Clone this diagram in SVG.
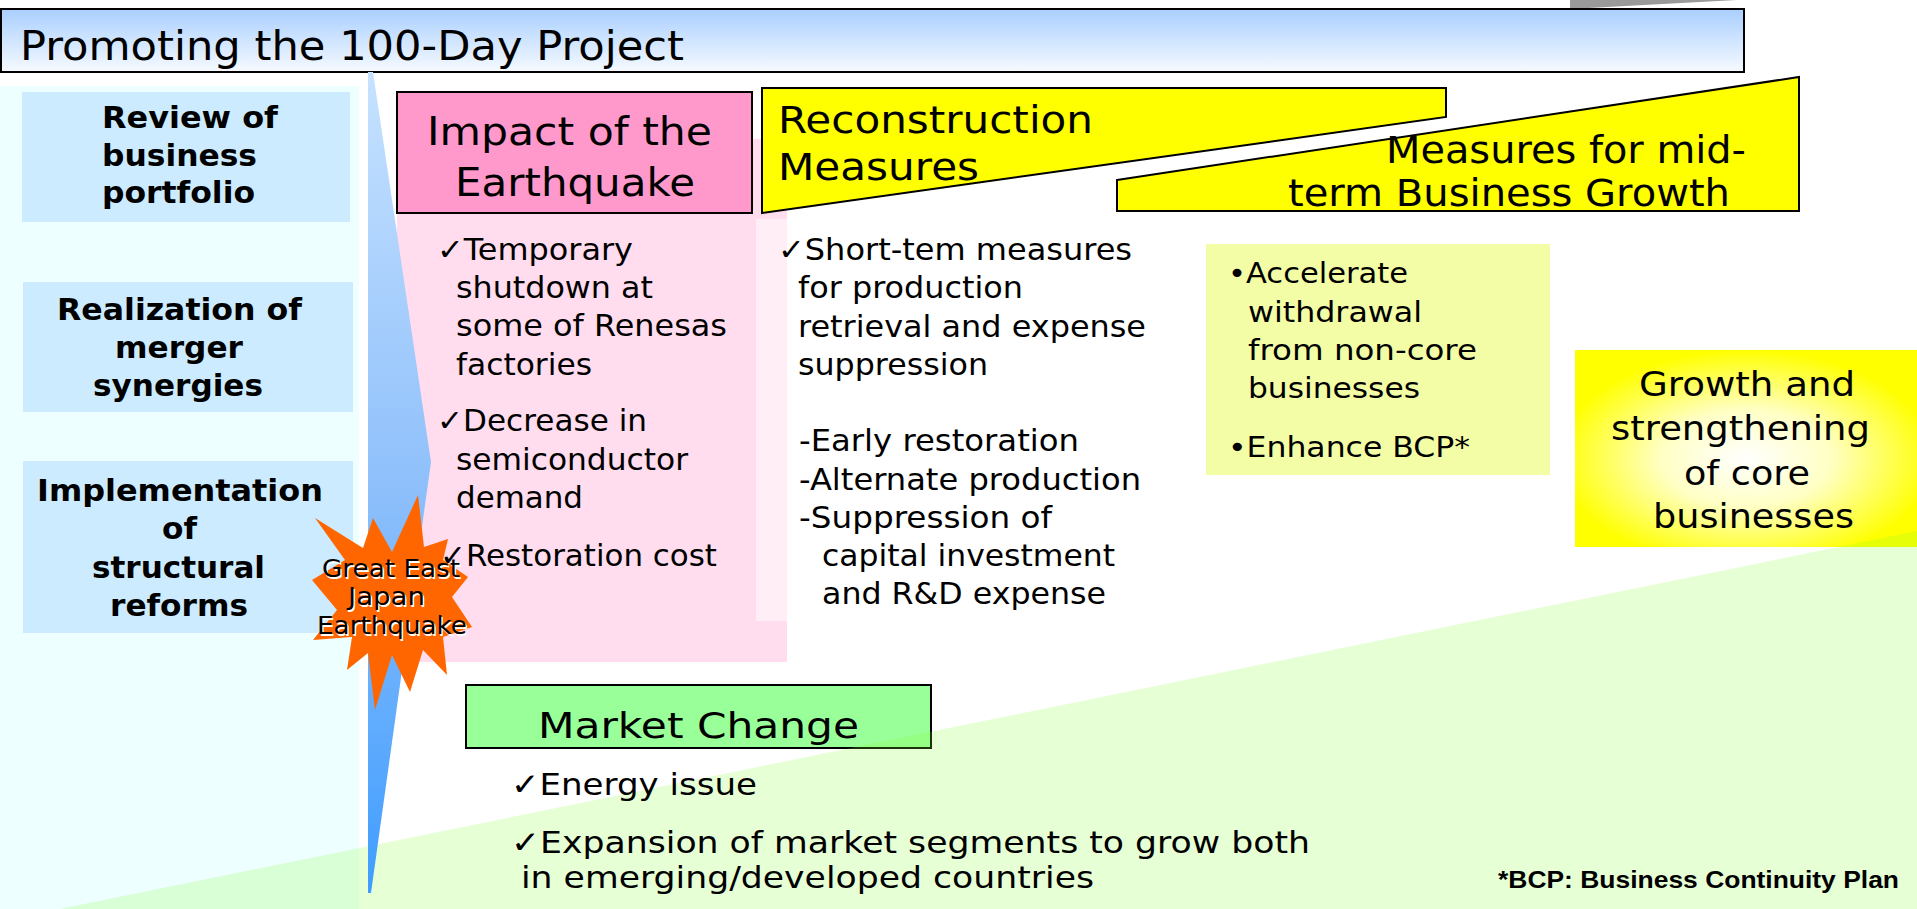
<svg xmlns="http://www.w3.org/2000/svg" width="1917" height="909" viewBox="0 0 1917 909">
<defs>
<style>
text{font-family:"DejaVu Sans",Verdana,sans-serif;fill:#000}
.bold{font-weight:bold}
.f30{font-size:30px}
.f29{font-size:29px}
.f31{font-size:31px}
.f33{font-size:33px}
.f37{font-size:37px}
.f39{font-size:39px}
.lbox{fill:#CCEBFF}
.ybox{fill:#FFFF00;stroke:#000;stroke-width:2}
.shadow{fill:#fff}
</style>
<linearGradient id="titleGrad" x1="0" y1="0" x2="0" y2="1">
<stop offset="0" stop-color="#A9CFFF"/>
<stop offset="1" stop-color="#F6FAFF"/>
</linearGradient>
<linearGradient id="arrowGrad" x1="0" y1="0" x2="0" y2="1">
<stop offset="0" stop-color="#C6E2FF"/>
<stop offset="0.5" stop-color="#8FC0FB"/>
<stop offset="1" stop-color="#3F9DFF"/>
</linearGradient>
<radialGradient id="growGrad" cx="0.5" cy="0.55" r="0.55">
<stop offset="0" stop-color="#FFFFFF"/>
<stop offset="0.45" stop-color="#FFFFC4"/>
<stop offset="1" stop-color="#FFFF00"/>
</radialGradient>
</defs>

<rect width="1917" height="909" fill="#fff"/>

<!-- top-right grey wedge -->
<polygon points="1570,0 1737,0 1570,9" fill="#9A9A9A"/>

<!-- title bar -->
<g id="title">
<rect x="1" y="9" width="1743" height="63" fill="url(#titleGrad)" stroke="#000" stroke-width="2"/>
<text x="20" y="60" style="font-size:40px" textLength="664" lengthAdjust="spacingAndGlyphs">Promoting the 100-Day Project</text>
</g>

<!-- left column -->
<rect x="0" y="86" width="359" height="823" fill="#EEFFFF"/>

<g id="review">
<rect class="lbox" x="22" y="92" width="328" height="130"/>
<text class="bold f30" x="102" y="128" textLength="176" lengthAdjust="spacingAndGlyphs">Review of</text>
<text class="bold f30" x="102" y="166" textLength="155" lengthAdjust="spacingAndGlyphs">business</text>
<text class="bold f30" x="102" y="203" textLength="153" lengthAdjust="spacingAndGlyphs">portfolio</text>
</g>

<g id="synergies">
<rect class="lbox" x="23" y="282" width="330" height="130"/>
<text class="bold f30" x="57" y="320" textLength="245" lengthAdjust="spacingAndGlyphs">Realization of</text>
<text class="bold f30" x="115" y="358" textLength="128" lengthAdjust="spacingAndGlyphs">merger</text>
<text class="bold f30" x="93" y="396" textLength="170" lengthAdjust="spacingAndGlyphs">synergies</text>
</g>

<g id="reforms">
<rect class="lbox" x="23" y="461" width="330" height="172"/>
<text class="bold f30" x="37" y="501" textLength="286" lengthAdjust="spacingAndGlyphs">Implementation</text>
<text class="bold f30" x="162" y="539" textLength="35" lengthAdjust="spacingAndGlyphs">of</text>
<text class="bold f30" x="92" y="578" textLength="173" lengthAdjust="spacingAndGlyphs">structural</text>
<text class="bold f30" x="110" y="616" textLength="138" lengthAdjust="spacingAndGlyphs">reforms</text>
</g>

<!-- impact of the earthquake -->
<g id="impact">
<rect x="397" y="139" width="390" height="523" fill="#FFDDEE"/>
<rect x="756" y="219" width="31" height="402" fill="#FFEEF5"/>
<rect x="397" y="92" width="355" height="121" fill="#FF99CC" stroke="#000" stroke-width="2"/>
<text class="f39" x="427" y="145" textLength="285" lengthAdjust="spacingAndGlyphs">Impact of the</text>
<text class="f39" x="455" y="196" textLength="240" lengthAdjust="spacingAndGlyphs">Earthquake</text>
<text class="f30" x="437" y="260" textLength="196" lengthAdjust="spacingAndGlyphs">✓Temporary</text>
<text class="f30" x="456" y="298" textLength="197" lengthAdjust="spacingAndGlyphs">shutdown at</text>
<text class="f30" x="456" y="336" textLength="271" lengthAdjust="spacingAndGlyphs">some of Renesas</text>
<text class="f30" x="456" y="375" textLength="136" lengthAdjust="spacingAndGlyphs">factories</text>
<text class="f30" x="437" y="431" textLength="210" lengthAdjust="spacingAndGlyphs">✓Decrease in</text>
<text class="f30" x="456" y="470" textLength="232" lengthAdjust="spacingAndGlyphs">semiconductor</text>
<text class="f30" x="456" y="508" textLength="127" lengthAdjust="spacingAndGlyphs">demand</text>
<text class="f30" x="440" y="566" textLength="277" lengthAdjust="spacingAndGlyphs">✓Restoration cost</text>
</g>

<!-- reconstruction measures -->
<g id="reconstruction">
<polygon class="ybox" points="762,88 1446,88 1446,117 762,213"/>
<text class="f37" x="778" y="133" textLength="315" lengthAdjust="spacingAndGlyphs">Reconstruction</text>
<text class="f37" x="778" y="180" textLength="201" lengthAdjust="spacingAndGlyphs">Measures</text>
<text class="f30" x="778" y="260" textLength="354" lengthAdjust="spacingAndGlyphs">✓Short-tem measures</text>
<text class="f30" x="798" y="298" textLength="225" lengthAdjust="spacingAndGlyphs">for production</text>
<text class="f30" x="798" y="337" textLength="348" lengthAdjust="spacingAndGlyphs">retrieval and expense</text>
<text class="f30" x="798" y="375" textLength="190" lengthAdjust="spacingAndGlyphs">suppression</text>
<text class="f30" x="799" y="451" textLength="280" lengthAdjust="spacingAndGlyphs">-Early restoration</text>
<text class="f30" x="799" y="490" textLength="342" lengthAdjust="spacingAndGlyphs">-Alternate production</text>
<text class="f30" x="799" y="528" textLength="253" lengthAdjust="spacingAndGlyphs">-Suppression of</text>
<text class="f30" x="822" y="566" textLength="293" lengthAdjust="spacingAndGlyphs">capital investment</text>
<text class="f30" x="822" y="604" textLength="284" lengthAdjust="spacingAndGlyphs">and R&amp;D expense</text>
</g>

<!-- mid-term measures -->
<g id="midterm">
<polygon class="ybox" points="1117,180 1799,77 1799,211 1117,211"/>
<text class="f37" x="1386" y="163" textLength="360" lengthAdjust="spacingAndGlyphs">Measures for mid-</text>
<text class="f37" x="1288" y="206" textLength="442" lengthAdjust="spacingAndGlyphs">term Business Growth</text>
</g>

<g id="accelerate">
<rect x="1206" y="244" width="344" height="231" fill="#F3FDA6"/>
<text class="f29" x="1228" y="283" textLength="180" lengthAdjust="spacingAndGlyphs">•Accelerate</text>
<text class="f29" x="1248" y="322" textLength="174" lengthAdjust="spacingAndGlyphs">withdrawal</text>
<text class="f29" x="1248" y="360" textLength="229" lengthAdjust="spacingAndGlyphs">from non-core</text>
<text class="f29" x="1248" y="398" textLength="172" lengthAdjust="spacingAndGlyphs">businesses</text>
<text class="f29" x="1228" y="457" textLength="242" lengthAdjust="spacingAndGlyphs">•Enhance BCP*</text>
</g>

<g id="growth">
<rect x="1575" y="350" width="342" height="197" fill="url(#growGrad)"/>
<text class="f33" x="1639" y="396" textLength="216" lengthAdjust="spacingAndGlyphs">Growth and</text>
<text class="f33" x="1611" y="440" textLength="259" lengthAdjust="spacingAndGlyphs">strengthening</text>
<text class="f33" x="1684" y="485" textLength="126" lengthAdjust="spacingAndGlyphs">of core</text>
<text class="f33" x="1653" y="528" textLength="201" lengthAdjust="spacingAndGlyphs">businesses</text>
</g>

<g id="market">
<rect x="466" y="685" width="465" height="63" fill="#99FF99" stroke="#000" stroke-width="2"/>
<text style="font-size:36px" x="538" y="738" textLength="321" lengthAdjust="spacingAndGlyphs">Market Change</text>
</g>

<!-- light green band -->
<polygon points="60,909 1917,531 1917,909" fill="#82FF2D" fill-opacity="0.2"/>

<g id="market-items">
<text class="f31" x="511" y="795" textLength="246" lengthAdjust="spacingAndGlyphs">✓Energy issue</text>
<text class="f31" x="511" y="853" textLength="799" lengthAdjust="spacingAndGlyphs">✓Expansion of market segments to grow both</text>
<text class="f31" x="521" y="888" textLength="573" lengthAdjust="spacingAndGlyphs">in emerging/developed countries</text>
</g>

<!-- timeline arrow -->
<g id="timeline">
<polygon points="368,72 373,72 431,462 371,893 368,893" fill="url(#arrowGrad)"/>
</g>

<!-- earthquake starburst -->
<g id="earthquake">
<polygon fill="#FF6600" points="418,495 424,547 448,539 443,560 468,577 452,597 472,627 443,637 447,675 423,650 410,692 392,655 375,710 368,653 347,670 352,637 313,640 337,610 312,580 345,560 315,518 363,548 373,518 392,552"/>
<text class="shadow" style="font-size:24px" x="323.5" y="578.5" textLength="138" lengthAdjust="spacingAndGlyphs">Great East</text>
<text class="shadow" style="font-size:24px" x="349.5" y="606.5" textLength="77" lengthAdjust="spacingAndGlyphs">Japan</text>
<text class="shadow" style="font-size:24px" x="318.5" y="635.5" textLength="150" lengthAdjust="spacingAndGlyphs">Earthquake</text>
<text style="font-size:24px" x="322" y="577" textLength="138" lengthAdjust="spacingAndGlyphs">Great East</text>
<text style="font-size:24px" x="348" y="605" textLength="77" lengthAdjust="spacingAndGlyphs">Japan</text>
<text style="font-size:24px" x="317" y="634" textLength="150" lengthAdjust="spacingAndGlyphs">Earthquake</text>
</g>

<g id="footnote">
<text style="font-family:'Liberation Sans',Arial,sans-serif;font-weight:bold;font-size:24px" x="1498" y="888" textLength="401" lengthAdjust="spacingAndGlyphs">*BCP: Business Continuity Plan</text>
</g>
</svg>
